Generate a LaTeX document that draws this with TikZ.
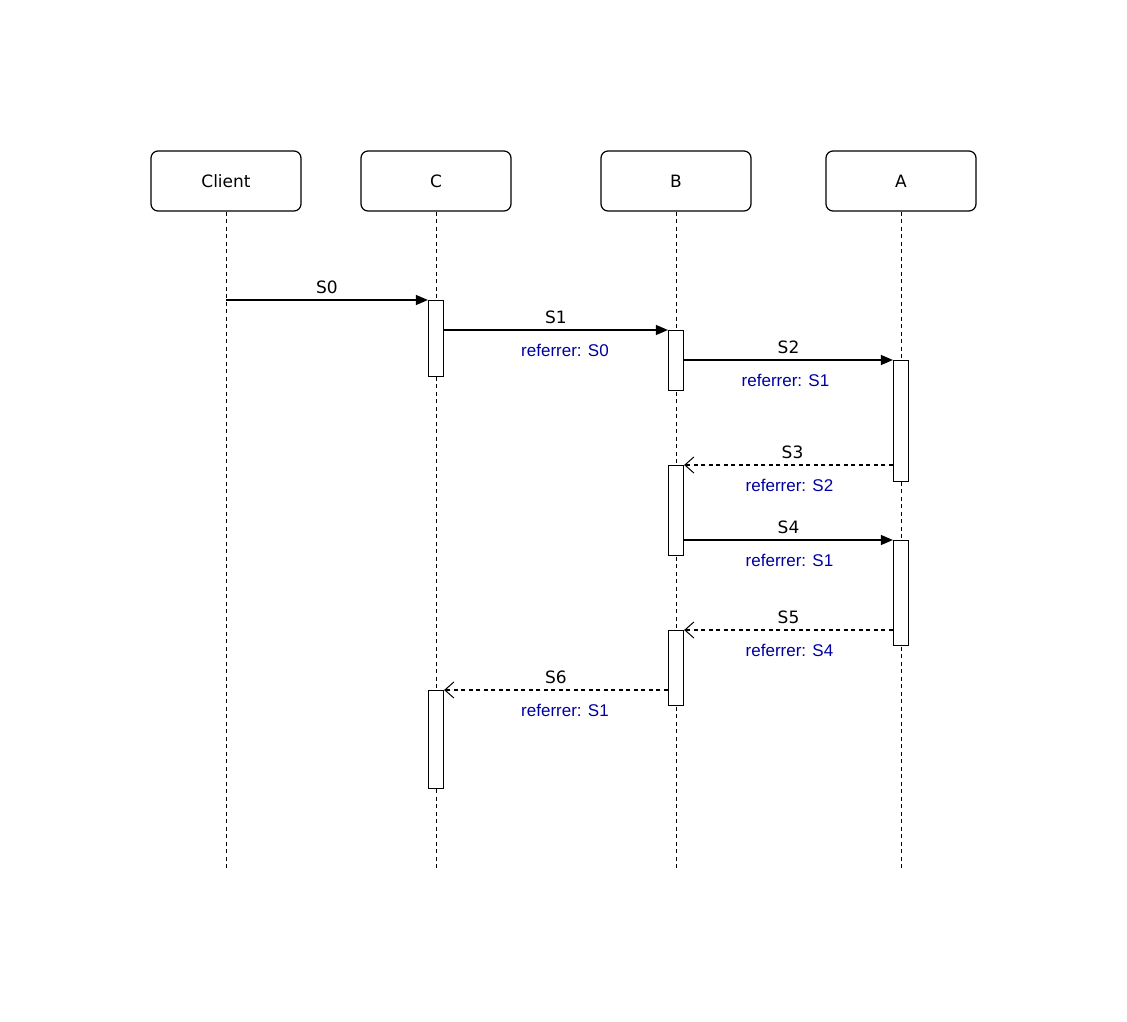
\documentclass[tikz,border=0pt]{standalone}
\usepackage{fontspec}
\setmainfont{DejaVu Sans}
\newfontfamily\reffont{Liberation Sans}
\usetikzlibrary{arrows.meta, positioning, calc}
\definecolor{refblue}{RGB}{0,0,160}

\begin{document}
\begin{tikzpicture}[
    x=1pt, y=-1pt, line width=1.2pt,
    actor/.style={draw, rounded corners=7pt, minimum width=150pt, minimum height=60pt, inner sep=0pt, font=\fontsize{17}{20}\selectfont},
    act/.style={draw, fill=white, minimum width=15pt, inner sep=0pt, anchor=north},
    life/.style={dash pattern=on 4pt off 3.5pt, line width=1pt},
    msg/.style={-{Triangle[length=12pt,width=10pt]}},
    reply/.style={dash pattern=on 4pt off 3.5pt, -{Straight Barb[length=9pt,width=16pt,line width=1pt]}},
    lbl/.style={font=\fontsize{17}{20}\selectfont, inner sep=2pt},
    ref/.style={font=\reffont\fontsize{17}{20}\selectfont, text=refblue, inner sep=2pt}
]
    \useasboundingbox (0,0) rectangle (1127,1022);
    % participants
    \node[actor] (client) at (226,181) {Client};
    \node[actor] (c) at (436,181) {C};
    \node[actor] (b) at (676,181) {B};
    \node[actor] (a) at (901,181) {A};
    % lifelines
    \foreach \p in {client, c, b, a} {
        \coordinate (\p end) at (\p |- 0,870);
        \draw[life] (\p.south) -- (\p end);
    }
    % activations
    \node[act, minimum height=76pt] (c1) at (436,300) {};
    \node[act, minimum height=60pt] (b1) at (676,330) {};
    \node[act, minimum height=121pt] (a1) at (901,360) {};
    \node[act, minimum height=90pt] (b2) at (676,465) {};
    \node[act, minimum height=105pt] (a2) at (901,540) {};
    \node[act, minimum height=75pt] (b3) at (676,630) {};
    \node[act, minimum height=98pt] (c2) at (436,690) {};
    % messages
    \coordinate (s0start) at (client |- c1.north);
    \draw[msg] (s0start) -- node[lbl, above=4pt] {S0} (c1.north west);
    \draw[msg] (c1.east |- b1.north) -- node[lbl, above=4pt] {S1}
        node[ref, below=12pt, xshift=9pt] {referrer: S0} (b1.north west);
    \draw[msg] (b1.east |- a1.north) -- node[lbl, above=4pt] {S2}
        node[ref, below=12pt, xshift=-3pt] {referrer: S1} (a1.north west);
    \draw[reply] (a1.west |- b2.north) -- node[lbl, above=4pt, xshift=4pt] {S3}
        node[ref, below=12pt, xshift=1pt] {referrer: S2} (b2.north east);
    \draw[msg] (b2.east |- a2.north) -- node[lbl, above=4pt] {S4}
        node[ref, below=12pt, xshift=1pt] {referrer: S1} (a2.north west);
    \draw[reply] (a2.west |- b3.north) -- node[lbl, above=4pt] {S5}
        node[ref, below=12pt, xshift=1pt] {referrer: S4} (b3.north east);
    \draw[reply] (b3.west |- c2.north) -- node[lbl, above=4pt] {S6}
        node[ref, below=12pt, xshift=9pt] {referrer: S1} (c2.north east);
\end{tikzpicture}
\end{document}
